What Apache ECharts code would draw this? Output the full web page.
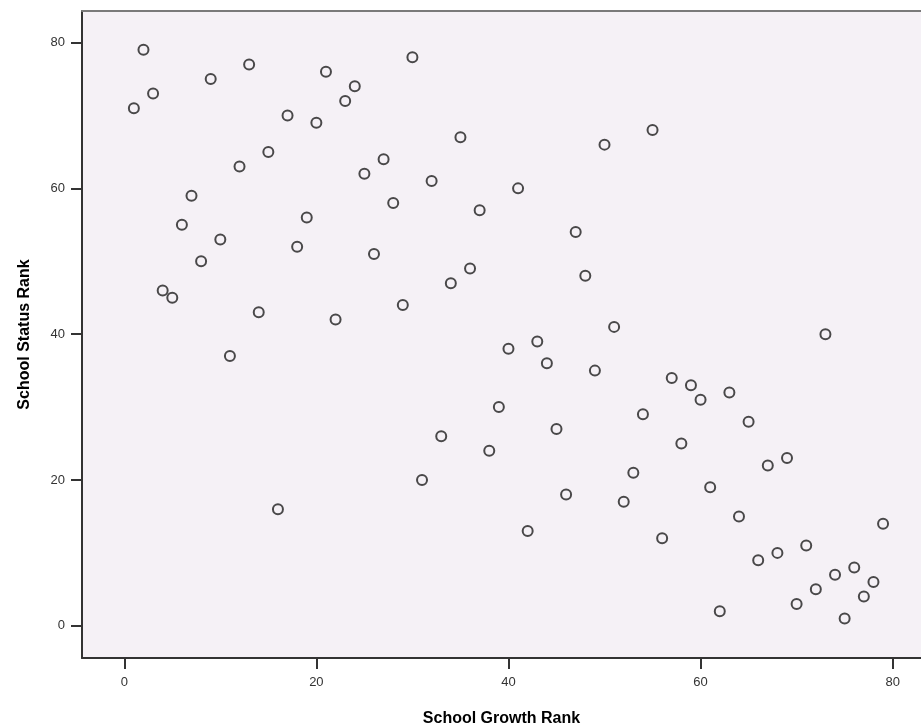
<!DOCTYPE html>
<html>
<head>
<meta charset="utf-8">
<title>School Growth vs Status Rank</title>
<script src="https://cdn.jsdelivr.net/npm/echarts@6/dist/echarts.min.js"></script>
<style>
  html, body { margin: 0; padding: 0; background: #ffffff; }
  #chart { width: 921px; height: 726px; }
</style>
</head>
<body>
<div id="chart"></div>
<script>
// Growth rank of each school (x) and its status rank (y)
var growthRank = [
  1, 2, 3, 4, 5, 6, 7, 8, 9, 10,
  11, 12, 13, 14, 15, 16, 17, 18, 19, 20,
  21, 22, 23, 24, 25, 26, 27, 28, 29, 30,
  31, 32, 33, 34, 35, 36, 37, 38, 39, 40,
  41, 42, 43, 44, 45, 46, 47, 48, 49, 50,
  51, 52, 53, 54, 55, 56, 57, 58, 59, 60,
  61, 62, 63, 64, 65, 66, 67, 68, 69, 70,
  71, 72, 73, 74, 75, 76, 77, 78, 79
];
var statusRank = [
  71, 79, 73, 46, 45, 55, 59, 50, 75, 53,
  37, 63, 77, 43, 65, 16, 70, 52, 56, 69,
  76, 42, 72, 74, 62, 51, 64, 58, 44, 78,
  20, 61, 26, 47, 67, 49, 57, 24, 30, 38,
  60, 13, 39, 36, 27, 18, 54, 48, 35, 66,
  41, 17, 21, 29, 68, 12, 34, 25, 33, 31,
  19, 2, 32, 15, 28, 9, 22, 10, 23, 3,
  11, 5, 40, 7, 1, 8, 4, 6, 14
];
var xTicks = [0, 20, 40, 60, 80];
var yTicks = [0, 20, 40, 60, 80];

var points = growthRank.map(function (g, i) { return [g, statusRank[i]]; });

var FONT = '"Liberation Sans", Arial, Helvetica, sans-serif';
var chart = echarts.init(document.getElementById('chart'), null, { renderer: 'canvas' });

chart.setOption({
  animation: false,
  backgroundColor: '#ffffff',
  grid: {
    left: 82, right: 0, top: 11, bottom: 68,
    outerBoundsMode: 'none',
    containLabel: false,
    show: true,
    backgroundColor: '#f5f1f6',
    borderWidth: 0
  },
  xAxis: [{
    type: 'value',
    min: -4.4, max: 82.95,
    position: 'bottom',
    name: 'School Growth Rank',
    nameLocation: 'middle',
    nameGap: 53,
    nameTextStyle: { fontFamily: FONT, fontSize: 16, fontWeight: 'bold', color: '#000' },
    splitLine: { show: false },
    axisLine: { show: true, onZero: false, lineStyle: { color: '#333333', width: 2 } },
    axisTick: { show: true, length: 11, customValues: xTicks, lineStyle: { color: '#333333', width: 2 } },
    axisLabel: { customValues: xTicks, margin: 18, fontFamily: FONT, fontSize: 13, color: '#333333' }
  }, {
    type: 'value',
    min: -4.4, max: 82.95,
    position: 'top',
    splitLine: { show: false },
    axisLine: { show: true, onZero: false, lineStyle: { color: '#7a7a7a', width: 2 } },
    axisTick: { show: false },
    axisLabel: { show: false }
  }],
  yAxis: {
    type: 'value',
    min: -4.42, max: 84.33,
    name: 'School Status Rank',
    nameLocation: 'middle',
    nameGap: 49,
    nameTextStyle: { fontFamily: FONT, fontSize: 16, fontWeight: 'bold', color: '#000' },
    splitLine: { show: false },
    axisLine: { show: true, onZero: false, lineStyle: { color: '#333333', width: 2 } },
    axisTick: { show: true, length: 11, customValues: yTicks, lineStyle: { color: '#333333', width: 2 } },
    axisLabel: { customValues: yTicks, margin: 17, fontFamily: FONT, fontSize: 13, color: '#333333' }
  },
  series: [{
    type: 'scatter',
    xAxisIndex: 0,
    data: points,
    symbol: 'circle',
    symbolSize: 10,
    itemStyle: { color: 'rgba(0,0,0,0)', borderColor: '#1e1e1e', borderWidth: 2 }
  }]
});
</script>
</body>
</html>
